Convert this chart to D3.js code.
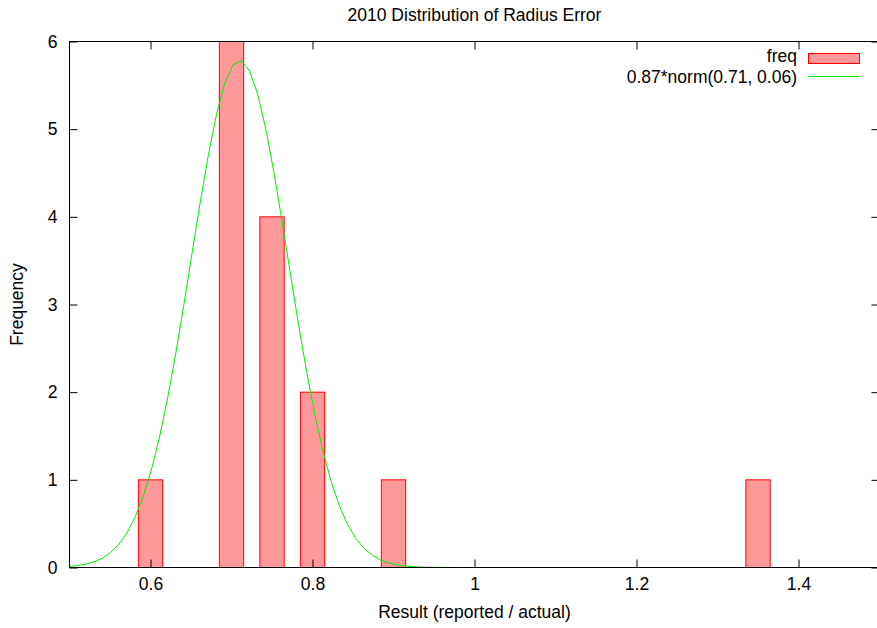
<!DOCTYPE html>
<html>
<head>
<meta charset="utf-8">
<script src="https://cdn.jsdelivr.net/npm/d3@7"></script>
<style>
  html, body { margin: 0; padding: 0; background: #fff; }
  svg { display: block; font-family: "Liberation Sans", Arial, sans-serif; }
</style>
</head>
<body>
<svg id="chart" width="877" height="628"></svg>
<script>
// Histogram bins (bin centre) and counts
const binCenters = [0.6, 0.7, 0.75, 0.8, 0.9, 1.35];
const binCounts = [1, 6, 4, 2, 1, 1];
const boxWidth = 0.03;

// Fitted normal curve: scale * normal pdf(mean, sd)
const fitScale = 0.87;
const fitMean = 0.71;
const fitSd = 0.06;
const fitLabel = "0.87*norm(0.71, 0.06)";

const xTicks = [0.6, 0.8, 1, 1.2, 1.4];
const yTicks = [0, 1, 2, 3, 4, 5, 6];
const xDomain = [0.5, 1.5];
const yDomain = [0, 6];
const sampleCount = 100;

const svg = d3.select("#chart");
const plotL = 69.5, plotR = 879.5, plotT = 41.5, plotB = 567.5;
const fontSize = 17.5;

const x = d3.scaleLinear().domain(xDomain).range([plotL, plotR]);
const y = d3.scaleLinear().domain(yDomain).range([plotB, plotT]);

// Title
svg.append("text")
  .attr("x", (plotL + plotR) / 2).attr("y", 20.5)
  .attr("text-anchor", "middle").attr("font-size", fontSize)
  .text("2010 Distribution of Radius Error");

// Bars
svg.append("g").selectAll("rect")
  .data(binCenters.map((c, i) => ({c, n: binCounts[i]})))
  .join("rect")
  .attr("x", d => x(d.c - boxWidth / 2))
  .attr("width", d => x(d.c + boxWidth / 2) - x(d.c - boxWidth / 2))
  .attr("y", d => y(d.n))
  .attr("height", d => y(0) - y(d.n))
  .attr("fill", "#ff9999")
  .attr("stroke", "#ff0000")
  .attr("stroke-width", 1);

// Fitted curve, sampled across the x range
const pdf = v => fitScale / (fitSd * Math.sqrt(2 * Math.PI)) *
  Math.exp(-((v - fitMean) ** 2) / (2 * fitSd * fitSd));
const samples = d3.range(sampleCount).map(i =>
  xDomain[0] + (xDomain[1] - xDomain[0]) * i / (sampleCount - 1));
svg.append("clipPath").attr("id", "plotclip")
  .append("rect").attr("x", plotL).attr("y", plotT)
  .attr("width", plotR - plotL).attr("height", plotB - plotT);
svg.append("path")
  .datum(samples)
  .attr("clip-path", "url(#plotclip)")
  .attr("fill", "none")
  .attr("stroke", "#00ee00")
  .attr("stroke-width", 1)
  .attr("d", d3.line().x(d => x(d)).y(d => y(pdf(d))));

// Border
svg.append("rect")
  .attr("x", plotL).attr("y", plotT)
  .attr("width", plotR - plotL).attr("height", plotB - plotT)
  .attr("fill", "none").attr("stroke", "#000").attr("stroke-width", 1);

const tickLen = 8;
// Bottom axis with mirrored ticks on top
const xAxis = d3.axisBottom(x).tickValues(xTicks).tickSizeInner(-tickLen)
  .tickSizeOuter(0).tickPadding(10).tickFormat(d3.format(""));
const gx = svg.append("g").attr("transform", `translate(0,${plotB})`).call(xAxis);
gx.select(".domain").remove();
gx.selectAll("text").attr("font-size", fontSize).attr("fill", "#000")
  .attr("font-family", "Liberation Sans, Arial, sans-serif");
gx.selectAll("line").attr("stroke", "#000");
const xTop = d3.axisTop(x).tickValues(xTicks).tickSizeInner(-tickLen)
  .tickSizeOuter(0).tickFormat("");
const gxt = svg.append("g").attr("transform", `translate(0,${plotT})`).call(xTop);
gxt.select(".domain").remove();
gxt.selectAll("line").attr("stroke", "#000");

// Left axis with mirrored ticks on right
const yAxis = d3.axisLeft(y).tickValues(yTicks).tickSizeInner(-tickLen)
  .tickSizeOuter(0).tickPadding(12).tickFormat(d3.format("d"));
const gy = svg.append("g").attr("transform", `translate(${plotL},0)`).call(yAxis);
gy.select(".domain").remove();
gy.selectAll("text").attr("font-size", fontSize).attr("fill", "#000")
  .attr("font-family", "Liberation Sans, Arial, sans-serif");
gy.selectAll("line").attr("stroke", "#000");
const yRight = d3.axisRight(y).tickValues(yTicks).tickSizeInner(-tickLen)
  .tickSizeOuter(0).tickFormat("");
const gyr = svg.append("g").attr("transform", `translate(${plotR},0)`).call(yRight);
gyr.select(".domain").remove();
gyr.selectAll("line").attr("stroke", "#000");

// Axis titles
svg.append("text")
  .attr("x", (plotL + plotR) / 2).attr("y", 618)
  .attr("text-anchor", "middle").attr("font-size", fontSize)
  .text("Result (reported / actual)");
svg.append("text")
  .attr("transform", `translate(23,${(plotT + plotB) / 2}) rotate(-90)`)
  .attr("text-anchor", "middle").attr("font-size", fontSize)
  .text("Frequency");

// Legend
const lg = svg.append("g");
lg.append("text").attr("x", 797).attr("y", 62)
  .attr("text-anchor", "end").attr("font-size", fontSize).text("freq");
lg.append("rect").attr("x", 808.5).attr("y", 53.5).attr("width", 51).attr("height", 10)
  .attr("fill", "#ff9999").attr("stroke", "#ff0000");
lg.append("text").attr("x", 797).attr("y", 82.5)
  .attr("text-anchor", "end").attr("font-size", fontSize).text(fitLabel);
lg.append("line").attr("x1", 808).attr("x2", 860).attr("y1", 76.5).attr("y2", 76.5)
  .attr("stroke", "#00ee00");
</script>
</body>
</html>
